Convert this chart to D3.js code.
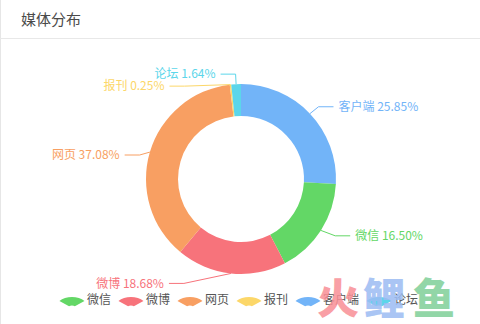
<!DOCTYPE html>
<html lang="zh">
<head>
<meta charset="utf-8">
<title>媒体分布</title>
<script src="https://d3js.org/d3.v7.min.js"></script>
<style>
  html, body { margin: 0; padding: 0; background: #fff; }
  svg { display: block; font-family: "Microsoft YaHei", "Noto Sans CJK SC", sans-serif; }
</style>
</head>
<body>
<svg id="chart"></svg>
<script>
// DATA
const names = ['客户端', '微信', '微博', '网页', '报刊', '论坛'];
const values = [25.85, 16.50, 18.68, 37.08, 0.25, 1.64];
const colors = ['#72b4f8', '#63d766', '#f7737b', '#f89f62', '#fcd769', '#5bd6ea'];
const legendNames = ['微信', '微博', '网页', '报刊', '客户端', '论坛'];

const width = 480, height = 324;
const cx = 241, cy = 179;
const rOuter = 95, rInner = 63;
const len = 10, len2 = 15, labelH = 12;

const svg = d3.select('#chart').attr('width', width).attr('height', height);

// card frame + header
svg.append('line').attr('x1', 0.5).attr('x2', 0.5).attr('y1', 0).attr('y2', height)
  .attr('stroke', '#e6e6e6');
svg.append('line').attr('x1', 0).attr('x2', width).attr('y1', 38.5).attr('y2', 38.5)
  .attr('stroke', '#e8e8e8');
svg.append('text').text('媒体分布')
  .attr('x', 21).attr('y', 20).attr('dy', '0.35em')
  .attr('font-size', 15).attr('fill', '#4a4a4a');

const data = names.map((n, i) => ({ name: n, value: values[i], color: colors[i] }));
const pie = d3.pie().sort(null).value(d => d.value);
const arc = d3.arc().innerRadius(rInner).outerRadius(rOuter);
const slices = pie(data);

const g = svg.append('g').attr('transform', `translate(${cx},${cy})`);
g.selectAll('path').data(slices).join('path')
  .attr('d', arc)
  .attr('fill', d => d.data.color);

// label layout (outside labels with leader lines, overlap avoidance)
const items = slices.map(s => {
  const mid = (s.startAngle + s.endAngle) / 2;
  const sin = Math.sin(mid), cos = Math.cos(mid);
  const x2 = cx + (rOuter + len) * sin, y2 = cy - (rOuter + len) * cos;
  const dir = x2 < cx ? -1 : 1;
  const x3 = x2 + dir * len2;
  return {
    d: s.data, dir,
    x1: cx + rOuter * sin, y1: cy - rOuter * cos,
    x: x3 + dir * 5, y: y2 - labelH / 2, dist: x2 - x3
  };
});

function adjustSide(list, dir) {
  list.sort((a, b) => a.y - b.y);
  function shiftUp(end, delta) {
    for (let j = end; j >= 0; j--) {
      if (list[j].y - delta < 0) break;
      list[j].y -= delta;
      if (j > 0 && list[j].y > list[j - 1].y + labelH) break;
    }
  }
  function shiftDown(start, end, delta) {
    for (let j = start; j < end; j++) {
      if (list[j].y + delta > height) break;
      list[j].y += delta;
      if (j > start && j + 1 < end && list[j + 1].y > list[j].y + labelH) {
        shiftUp(j, delta / 2);
        return;
      }
    }
    shiftUp(end - 1, delta / 2);
  }
  let lastY = 0;
  for (let i = 0; i < list.length; i++) {
    const delta = list[i].y - lastY;
    if (delta < 0) shiftDown(i, list.length, -delta);
    lastY = list[i].y + labelH;
  }
  const changeX = (sub, isDown) => {
    let last = isDown ? Number.MAX_VALUE : 0;
    sub.forEach(it => {
      const dy = Math.abs(it.y - cy);
      let dx = dy < rOuter + len
        ? Math.sqrt((rOuter + len + 20) ** 2 - dy * dy)
        : Math.abs(it.x - cx);
      if (isDown && dx >= last) dx = last - 10;
      if (!isDown && dx <= last) dx = last + 10;
      it.x = cx + dx * dir;
      last = dx;
    });
  };
  changeX(list.filter(it => it.y < cy), false);
  changeX(list.filter(it => it.y >= cy), true);
}
adjustSide(items.filter(it => it.dir < 0), -1);
adjustSide(items.filter(it => it.dir > 0), 1);

const lbl = svg.append('g');
items.forEach(it => {
  const ly = it.y + labelH / 2;
  const end = it.x - it.dir * 5;
  const elbow = end + it.dist;
  lbl.append('path')
    .attr('d', d3.line()([[it.x1, it.y1], [elbow, ly], [end, ly]]))
    .attr('fill', 'none').attr('stroke', it.d.color).attr('stroke-width', 1);
  lbl.append('text')
    .text(`${it.d.name} ${it.d.value.toFixed(2)}%`)
    .attr('x', it.x).attr('y', ly).attr('dy', '0.35em')
    .attr('text-anchor', it.dir < 0 ? 'end' : 'start')
    .attr('font-size', 12).attr('fill', it.d.color);
});

// legend
const colorOf = d3.scaleOrdinal().domain(names).range(colors);
const iconW = 20, itemGap = 10, legendY = 300;
const iconArc = d3.arc().innerRadius(3).outerRadius(13)
  .startAngle(-Math.PI * 0.28).endAngle(Math.PI * 0.28);
const legend = svg.append('g');
const legendItems = legendNames.map(n => {
  const gi = legend.append('g');
  gi.append('path').attr('d', iconArc)
    .attr('transform', `translate(${iconW / 2},${legendY + 8}) scale(1.25,0.85)`)
    .attr('fill', colorOf(n));
  const t = gi.append('text').text(n)
    .attr('x', iconW + 5).attr('y', legendY).attr('dy', '0.35em')
    .attr('font-size', 12).attr('fill', '#555');
  return { gi, w: iconW + 5 + t.node().getComputedTextLength() };
});
const total = d3.sum(legendItems, d => d.w) + itemGap * (legendItems.length - 1);
let lx = width / 2 - total / 2;
legendItems.forEach(it => {
  it.gi.attr('transform', `translate(${lx},0)`);
  lx += it.w + itemGap;
});

// watermark logo
const wm = [['火', '#f98f96', 338], ['鲤', '#9cbcf3', 384], ['鱼', '#7fcf98', 434]];
svg.append('g').selectAll('text').data(wm).join('text')
  .text(d => d[0])
  .attr('x', d => d[2]).attr('y', 314)
  .attr('text-anchor', 'middle')
  .attr('font-size', 42).attr('font-weight', 900)
  .attr('fill', d => d[1]).attr('opacity', 0.85);
</script>
</body>
</html>
